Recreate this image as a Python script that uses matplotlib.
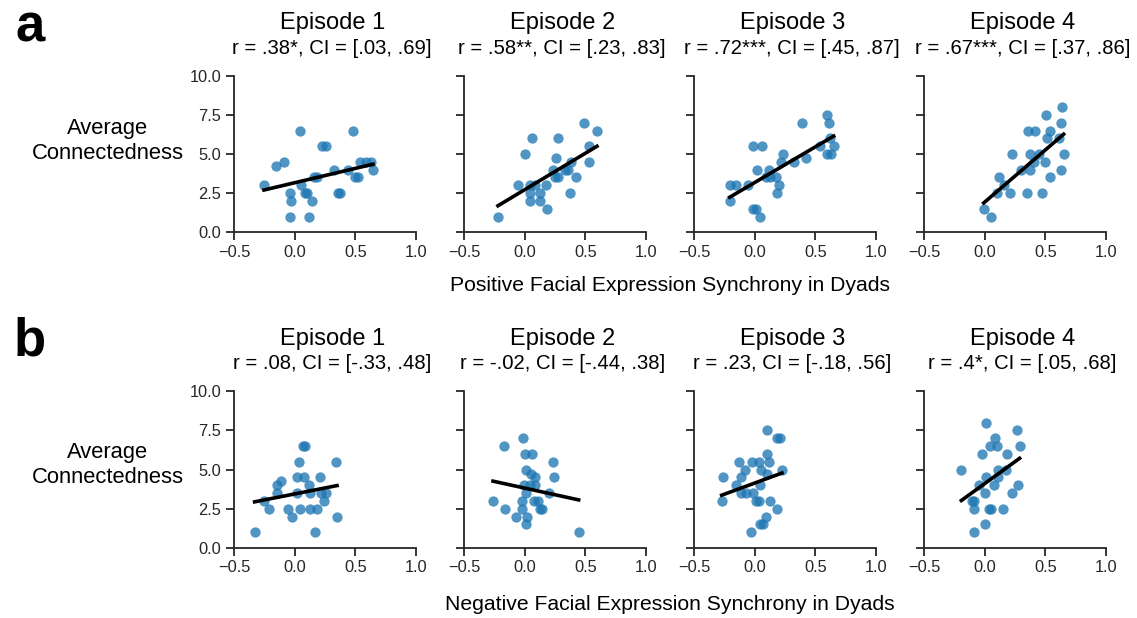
import numpy as np
import matplotlib.pyplot as plt

plt.rcParams['font.family'] = ['Liberation Sans', 'DejaVu Sans']

# Positive facial expression synchrony (top row, "a")
pos_x1 = [-0.253, -0.157, -0.091, 0.041, -0.041, -0.027, -0.041, 0.055, 0.082, 0.102, 0.118, 0.146, 0.157, 0.187,
          0.225, 0.255, 0.324, 0.357, 0.376, 0.437, 0.481, 0.495, 0.525, 0.541, 0.591, 0.632, 0.646]
pos_y1 = [3.0, 4.25, 4.5, 6.5, 2.5, 2.0, 1.0, 3.0, 2.5, 2.5, 1.0, 2.0, 3.5, 3.5,
          5.5, 5.5, 4.0, 2.5, 2.5, 4.0, 6.5, 3.5, 3.5, 4.5, 4.5, 4.5, 4.0]
pos_x2 = [-0.220, -0.055, 0.005, 0.041, 0.060, 0.041, 0.041, 0.082, 0.124, 0.129, 0.187, 0.179, 0.234, 0.255,
          0.247, 0.275, 0.275, 0.330, 0.357, 0.385, 0.420, 0.376, 0.492, 0.530, 0.530, 0.596]
pos_y2 = [1.0, 3.0, 5.0, 3.0, 6.0, 2.5, 2.0, 3.0, 2.5, 2.0, 1.5, 3.0, 4.0, 4.75,
          3.5, 3.5, 6.0, 4.0, 4.0, 4.5, 3.5, 2.5, 7.0, 5.5, 4.5, 6.5]
pos_x3 = [-0.206, -0.151, -0.206, -0.055, -0.014, 0.060, -0.014, 0.008, 0.041, 0.022, 0.091, 0.115, 0.124, 0.179,
          0.198, 0.187, 0.214, 0.234, 0.321, 0.420, 0.393, 0.536, 0.596, 0.613, 0.624, 0.651, 0.596, 0.629]
pos_y3 = [3.0, 3.0, 2.0, 3.0, 5.5, 5.5, 1.5, 1.5, 1.0, 4.0, 3.5, 4.0, 3.5, 3.5,
          3.0, 2.5, 4.5, 5.0, 4.5, 4.75, 7.0, 5.5, 7.5, 7.0, 6.0, 5.5, 5.0, 5.0]
pos_x4 = [-0.008, 0.055, 0.102, 0.118, 0.159, 0.212, 0.225, 0.302, 0.349, 0.371, 0.371, 0.357, 0.412, 0.404,
          0.448, 0.475, 0.497, 0.514, 0.503, 0.541, 0.541, 0.613, 0.632, 0.640, 0.651, 0.632]
pos_y4 = [1.5, 1.0, 2.5, 3.5, 3.0, 2.5, 5.0, 4.0, 2.5, 5.0, 4.0, 6.5, 6.5, 4.5,
          5.0, 2.5, 4.5, 6.0, 7.5, 6.5, 3.5, 6.0, 7.0, 8.0, 5.0, 4.0]

# Negative facial expression synchrony (bottom row, "b")
neg_x1 = [-0.330, -0.253, -0.212, -0.146, -0.146, -0.110, -0.055, -0.022, 0.022, 0.033, 0.022, 0.069, 0.082,
          0.077, 0.041, 0.118, 0.124, 0.129, 0.170, 0.187, 0.212, 0.220, 0.239, 0.255, 0.338, 0.349]
neg_y1 = [1.0, 3.0, 2.5, 3.5, 4.0, 4.25, 2.5, 2.0, 3.5, 5.5, 4.5, 6.5, 6.5,
          4.5, 2.5, 4.0, 3.5, 2.5, 1.0, 2.5, 4.5, 3.5, 3.0, 3.5, 5.5, 2.0]
neg_x2 = [-0.261, -0.170, -0.159, -0.069, -0.014, -0.022, -0.022, -0.008, 0.0, 0.008, 0.014, 0.019, 0.008,
          0.063, 0.055, 0.082, 0.082, 0.074, 0.110, 0.124, 0.143, 0.198, 0.234, 0.242, 0.445, 0.041]
neg_y2 = [3.0, 6.5, 2.5, 2.0, 7.0, 3.0, 2.5, 4.0, 6.0, 3.5, 5.0, 2.0, 1.5,
          6.0, 4.75, 4.5, 4.0, 3.0, 3.0, 2.5, 2.5, 3.5, 5.5, 4.5, 1.0, 4.0]
neg_x3 = [-0.272, -0.261, -0.151, -0.132, -0.110, -0.115, -0.077, -0.069, -0.025, -0.014, -0.033, 0.008, 0.033,
          0.033, 0.049, 0.041, 0.041, 0.069, 0.096, 0.102, 0.115, 0.104, 0.124, 0.102, 0.184, 0.187, 0.212, 0.225]
neg_y3 = [3.0, 4.5, 4.0, 5.5, 4.5, 3.5, 5.0, 3.5, 5.5, 3.5, 1.0, 3.0, 3.0,
          5.5, 5.0, 4.0, 1.5, 1.5, 2.0, 6.0, 5.5, 4.75, 3.0, 7.5, 2.5, 7.0, 7.0, 5.0]
neg_x4 = [-0.192, -0.104, -0.091, -0.091, -0.091, -0.047, -0.019, 0.0, 0.008, 0.0, 0.014, 0.033, 0.049,
          0.041, 0.077, 0.088, 0.102, 0.110, 0.110, 0.151, 0.173, 0.181, 0.228, 0.269, 0.288, 0.275]
neg_y4 = [5.0, 3.0, 3.0, 2.5, 1.0, 4.0, 6.0, 3.5, 4.5, 1.5, 8.0, 2.5, 2.5,
          6.5, 4.0, 7.0, 6.5, 5.0, 4.5, 2.5, 5.0, 6.0, 3.5, 7.5, 6.5, 4.0]

episodes = ['Episode 1', 'Episode 2', 'Episode 3', 'Episode 4']
pos_stats = ['r = .38*, CI = [.03, .69]', 'r = .58**, CI = [.23, .83]',
             'r = .72***, CI = [.45, .87]', 'r = .67***, CI = [.37, .86]']
neg_stats = ['r = .08, CI = [-.33, .48]', 'r = -.02, CI = [-.44, .38]',
             'r = .23, CI = [-.18, .56]', 'r = .4*, CI = [.05, .68]']

rows = [
    dict(xs=[pos_x1, pos_x2, pos_x3, pos_x4], ys=[pos_y1, pos_y2, pos_y3, pos_y4], stats=pos_stats,
         xlabel='Positive Facial Expression Synchrony in Dyads', letter='a'),
    dict(xs=[neg_x1, neg_x2, neg_x3, neg_x4], ys=[neg_y1, neg_y2, neg_y3, neg_y4], stats=neg_stats,
         xlabel='Negative Facial Expression Synchrony in Dyads', letter='b'),
]

W, H = 1137, 618
fig = plt.figure(figsize=(W / 100, H / 100), dpi=100)

ax_lefts = [234, 464, 694, 924]
ax_w, ax_h = 182, 156.6
row_tops = [75.7, 391.3]
ylabel_y = [141, 465]
xlabel_y = [286, 605]
letter_y = [28, 342]
dark = '#262626'

for r, row in enumerate(rows):
    for i in range(4):
        left = ax_lefts[i] / W
        bottom = 1 - (row_tops[r] + ax_h) / H
        ax = fig.add_axes([left, bottom, ax_w / W, ax_h / H])
        x = np.array(row['xs'][i])
        y = np.array(row['ys'][i])
        ax.scatter(x, y, s=55, color='#1f77b4', alpha=0.78, linewidths=0, zorder=2)
        # least-squares fit over the data range
        k, b = np.polyfit(x, y, 1)
        xx = np.array([x.min(), x.max()])
        ax.plot(xx, k * xx + b, color='black', lw=2.6, zorder=3)
        ax.set_xlim(-0.5, 1.0)
        ax.set_ylim(0, 10)
        ax.set_xticks([-0.5, 0.0, 0.5, 1.0])
        ax.set_yticks([0, 2.5, 5.0, 7.5, 10.0])
        ax.set_xticklabels(['\u22120.5', '0.0', '0.5', '1.0'])
        if i == 0:
            ax.set_yticklabels(['0.0', '2.5', '5.0', '7.5', '10.0'])
        else:
            ax.set_yticklabels([])
        for s in ['top', 'right']:
            ax.spines[s].set_visible(False)
        for s in ['left', 'bottom']:
            ax.spines[s].set_color(dark)
            ax.spines[s].set_linewidth(1.3)
        ax.tick_params(length=6, width=1.3, color=dark, labelcolor=dark, labelsize=11.8, pad=3)
        ax.text(0.54, 1.335, episodes[i], transform=ax.transAxes, ha='center', va='center',
                fontsize=17, color='black')
        ax.text(0.54, 1.175, row['stats'][i], transform=ax.transAxes, ha='center', va='center',
                fontsize=14.6, color='black')
    fig.text(108 / W, 1 - ylabel_y[r] / H, 'Average\nConnectedness', ha='center', va='center',
             fontsize=15.8, linespacing=1.2)
    fig.text(670 / W, 1 - xlabel_y[r] / H, row['xlabel'], ha='center', va='center', fontsize=15.2)
    fig.text(30 / W, 1 - letter_y[r] / H, row['letter'], ha='center', va='center',
             fontsize=38, fontweight='bold')

fig.savefig('out.png', dpi=100)
